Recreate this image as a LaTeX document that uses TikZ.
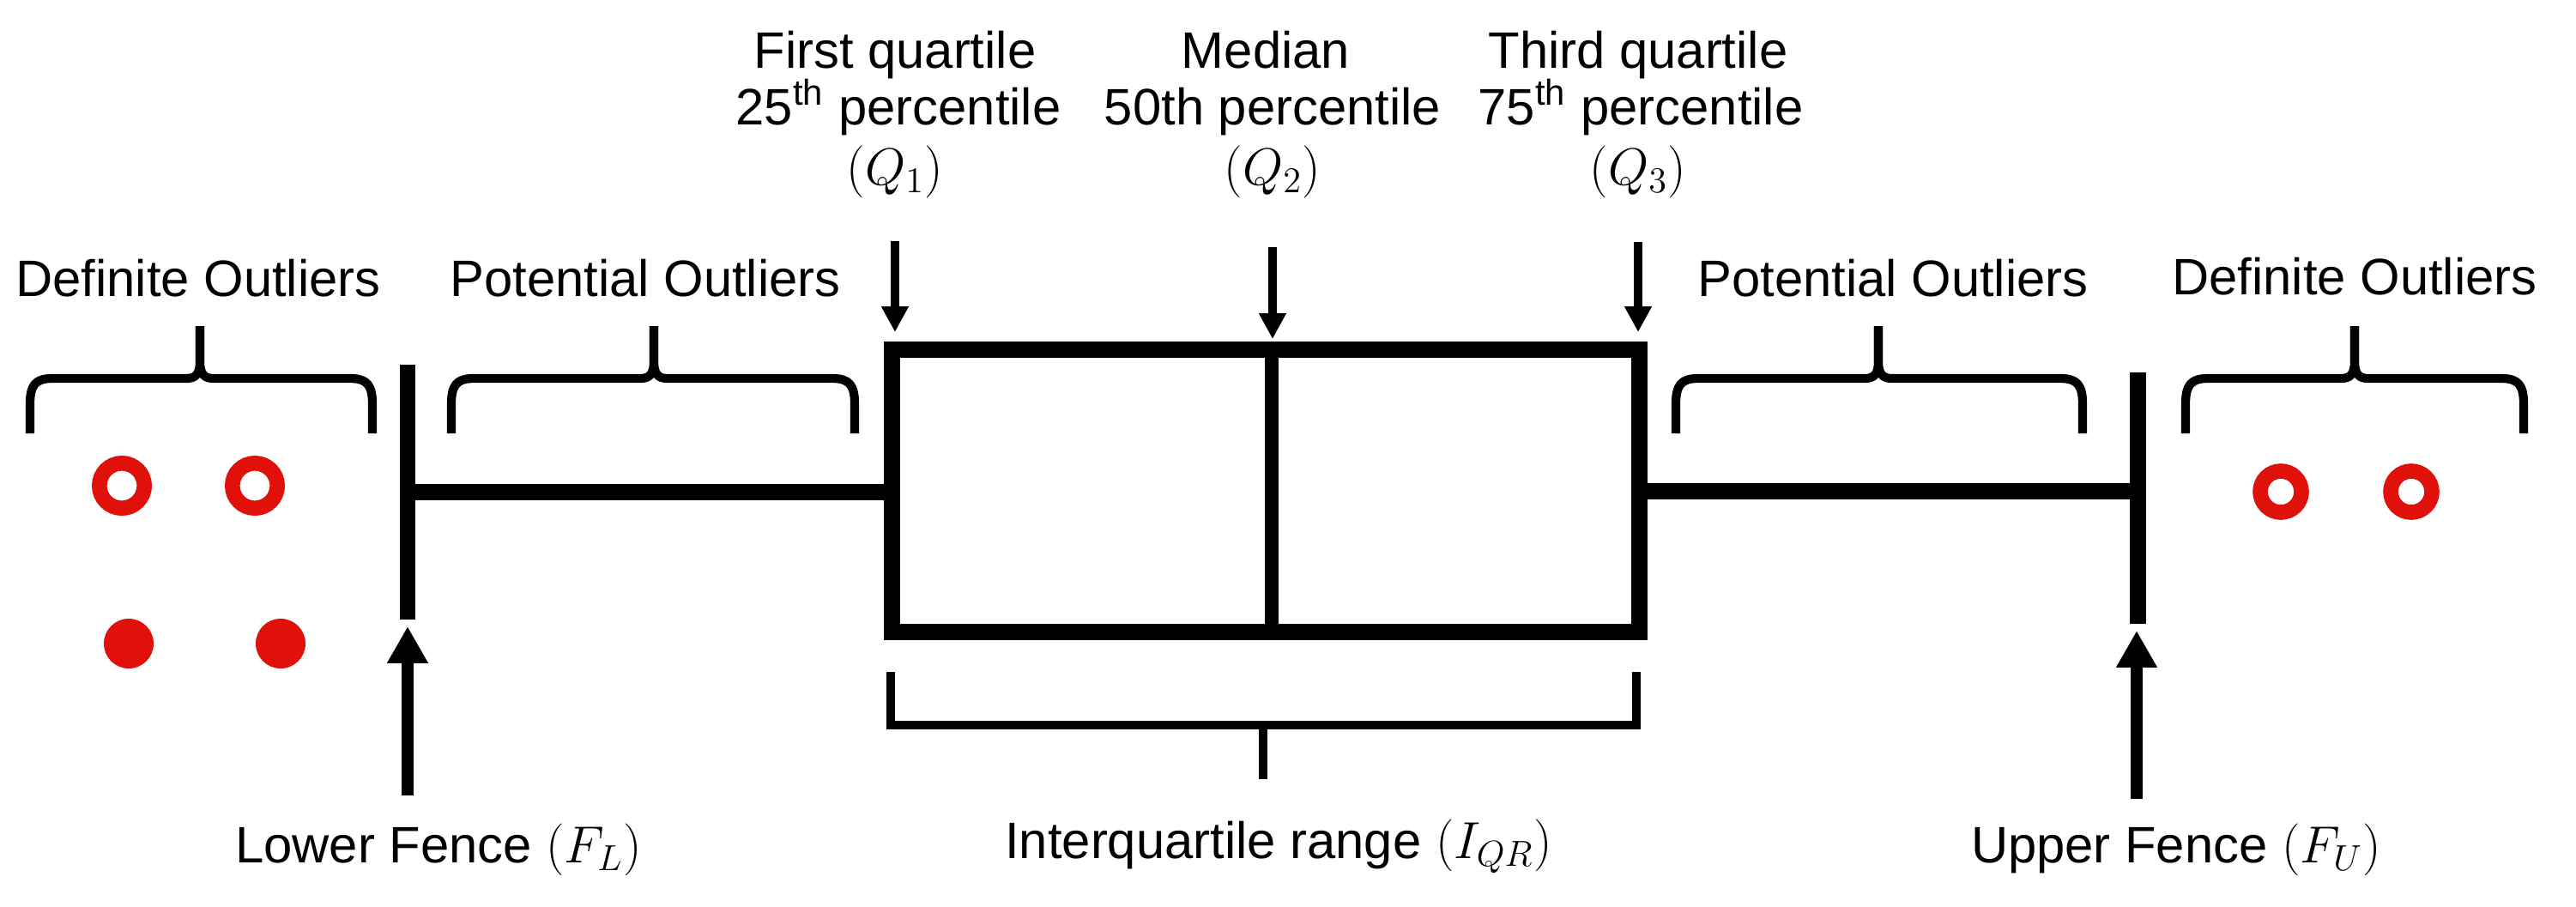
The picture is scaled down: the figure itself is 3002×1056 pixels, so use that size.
\documentclass[tikz,border=0pt]{standalone}
\usepackage{fontspec}
\setmainfont{Liberation Sans}
\usetikzlibrary{arrows.meta}
\definecolor{outred}{RGB}{224,17,10}
\newcommand\drawbrace[3]{%
  \draw[braceline] (#1,505) -- (#1,471) .. controls (#1,449) and (#1+6,441) .. (#1+26,441)
     -- (#3-16,441) .. controls (#3-5,441) and (#3,436) .. (#3,421) -- (#3,380);
  \draw[braceline] (#2,505) -- (#2,471) .. controls (#2,449) and (#2-6,441) .. (#2-26,441)
     -- (#3+16,441) .. controls (#3+5,441) and (#3,436) .. (#3,421) -- (#3,380);
}
\begin{document}
\begin{tikzpicture}[x=0.01cm,y=-0.01cm,
  lbl/.style={inner sep=0pt, anchor=base, font=\fontsize{17}{20}\selectfont},
  heavy/.style={line width=5.4pt},
  braceline/.style={line width=2.9pt, line join=round},
  bracket/.style={line width=3.1pt, line join=miter},
  uparrow/.style={line width=4pt, -{Triangle[length=12.2pt,width=12.8pt]}},
  downarrow/.style={line width=3.1pt, -{Triangle[length=8.5pt,width=8.5pt]}},
  ring/.style={draw=outred, line width=5pt},
  dot/.style={fill=outred}]
\useasboundingbox (0,0) rectangle (3002,1056);

% labels
\node[lbl] (defL) at (231,345) {Definite Outliers};
\node[lbl] (potL) at (752,345) {Potential Outliers};
\node[lbl] (potR) at (2206,345) {Potential Outliers};
\node[lbl] (defR) at (2744,343) {Definite Outliers};
\node[lbl] (q1a) at (1043,79) {First quartile};
\node[lbl] (q1b) at (1047,145) {25\textsuperscript{th} percentile};
\node[lbl] (q1c) at (1043,215) {$(Q_1)$};
\node[lbl] (q2a) at (1475,79) {Median};
\node[lbl] (q2b) at (1483,145) {50th percentile};
\node[lbl] (q2c) at (1483,215) {$(Q_2)$};
\node[lbl] (q3a) at (1909,79) {Third quartile};
\node[lbl] (q3b) at (1912,145) {75\textsuperscript{th} percentile};
\node[lbl] (q3c) at (1909,215) {$(Q_3)$};
\node[lbl] (fl) at (511,1005) {Lower Fence $(F_L)$};
\node[lbl] (iqr) at (1490,1000) {Interquartile range $(I_{QR})$};
\node[lbl] (fu) at (2536,1005) {Upper Fence $(F_U)$};

% key coordinates
\coordinate (boxTL) at (1039.5,407.5);
\coordinate (boxBR) at (1910.5,736.5);
\coordinate (medT) at (1482,407.5);
\coordinate (medB) at (1482,736.5);
\coordinate (wlA) at (475,573);
\coordinate (wlB) at (1039.5,573);
\coordinate (wrA) at (1910.5,572);
\coordinate (wrB) at (2491,572);
\coordinate (flT) at (475,425);
\coordinate (flB) at (475,722);
\coordinate (fuT) at (2491,434);
\coordinate (fuB) at (2491,727);

% box
\draw[heavy] (boxTL) rectangle (boxBR);
\draw[line width=4.5pt] (medT) -- (medB);
% whiskers and fences
\draw[heavy] (wlA) -- (wlB);
\draw[heavy] (wrA) -- (wrB);
\draw[heavy] (flT) -- (flB);
\draw[heavy] (fuT) -- (fuB);

% arrows from quartile labels
\coordinate (a1s) at (1043,281); \coordinate (a1e) at (1043,387);
\coordinate (a2s) at (1483,288); \coordinate (a2e) at (1483,395);
\coordinate (a3s) at (1909,282); \coordinate (a3e) at (1909,387);
\draw[downarrow] (a1s) -- (a1e);
\draw[downarrow] (a2s) -- (a2e);
\draw[downarrow] (a3s) -- (a3e);

% fence arrows
\coordinate (fla) at (475,927); \coordinate (flt) at (475,730);
\coordinate (fua) at (2490,931); \coordinate (fut) at (2490,735);
\draw[uparrow] (fla) -- (flt);
\draw[uparrow] (fua) -- (fut);

% IQR bracket
\draw[bracket] (1038,783) -- (1038,845) -- (1907,845) -- (1907,783);
\draw[bracket] (1472,845) -- (1472,908);

% braces
\drawbrace{35}{434}{233}
\drawbrace{526}{996}{762}
\drawbrace{1953}{2427}{2189}
\drawbrace{2547}{2941}{2744}

% outliers
\draw[ring] (142,566) circle[radius=0.262cm];
\draw[ring] (297,566) circle[radius=0.262cm];
\fill[dot] (150,750) circle[radius=0.29cm];
\fill[dot] (327,750) circle[radius=0.29cm];
\draw[ring] (2658,573) circle[radius=0.24cm];
\draw[ring] (2810,573) circle[radius=0.24cm];
\end{tikzpicture}
\end{document}
